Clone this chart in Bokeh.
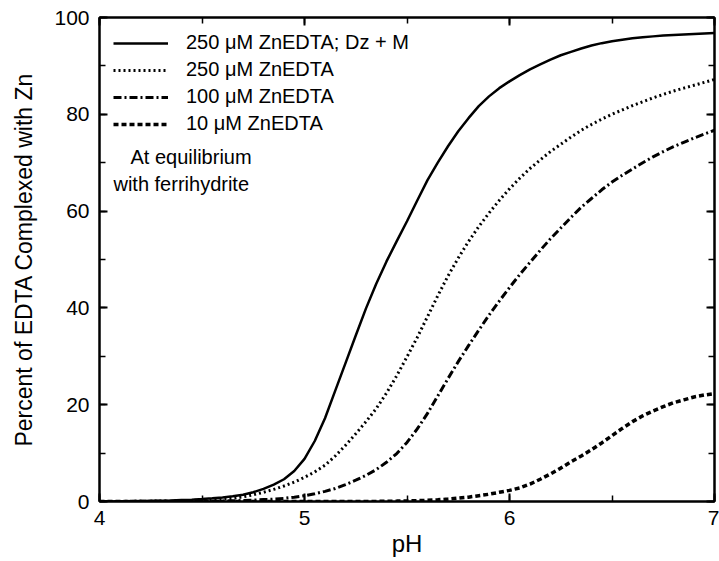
from bokeh.plotting import figure
from bokeh.models import (Range1d, LinearAxis, SingleIntervalTicker, Legend, LegendItem, Label,
                          CustomJSTickFormatter)
from bokeh.embed import file_html
from bokeh.resources import INLINE

ph = [4.00, 4.05, 4.10, 4.15, 4.20, 4.25, 4.30, 4.35, 4.40, 4.45,
      4.50, 4.55, 4.60, 4.65, 4.70, 4.75, 4.80, 4.85, 4.90, 4.95,
      5.00, 5.05, 5.10, 5.15, 5.20, 5.25, 5.30, 5.35, 5.40, 5.45,
      5.50, 5.55, 5.60, 5.65, 5.70, 5.75, 5.80, 5.85, 5.90, 5.95,
      6.00, 6.05, 6.10, 6.15, 6.20, 6.25, 6.30, 6.35, 6.40, 6.45,
      6.50, 6.55, 6.60, 6.65, 6.70, 6.75, 6.80, 6.85, 6.90, 6.95, 7.00]

# 250 uM ZnEDTA; Dz + M
zn250_dzm = [0.0, 0.02, 0.05, 0.07, 0.1, 0.13, 0.17, 0.22, 0.3, 0.38,
             0.5, 0.65, 0.85, 1.1, 1.4, 1.9, 2.6, 3.5, 4.6, 6.3,
             8.8, 12.5, 17.2, 22.9, 28.6, 34.3, 39.9, 45.0, 49.6, 53.8,
             57.9, 62.2, 66.4, 70.0, 73.4, 76.5, 79.2, 81.7, 83.7, 85.4,
             86.8, 88.1, 89.3, 90.3, 91.3, 92.2, 92.9, 93.6, 94.2, 94.7,
             95.1, 95.4, 95.7, 95.9, 96.1, 96.3, 96.4, 96.5, 96.6, 96.7, 96.8]

# 250 uM ZnEDTA
zn250 = [0.0, 0.0, 0.02, 0.03, 0.05, 0.07, 0.1, 0.13, 0.17, 0.22,
         0.3, 0.4, 0.5, 0.65, 0.95, 1.4, 1.9, 2.5, 3.2, 4.0,
         5.0, 6.1, 7.5, 9.4, 11.6, 14.0, 16.5, 19.2, 22.4, 26.0,
         29.9, 33.9, 38.2, 42.5, 46.6, 50.3, 53.7, 56.8, 59.6, 62.2,
         64.6, 66.8, 68.8, 70.6, 72.3, 73.8, 75.3, 76.7, 77.9, 79.0,
         80.0, 80.9, 81.8, 82.6, 83.4, 84.1, 84.8, 85.4, 86.0, 86.6, 87.2]

# 100 uM ZnEDTA
zn100 = [0.0, 0.0, 0.0, 0.0, 0.0, 0.0, 0.0, 0.0, 0.0, 0.02,
         0.05, 0.07, 0.1, 0.15, 0.2, 0.3, 0.4, 0.5, 0.65, 0.9,
         1.2, 1.6, 2.1, 2.7, 3.5, 4.4, 5.4, 6.6, 8.1, 9.9,
         12.2, 15.0, 18.2, 21.8, 25.4, 28.9, 32.2, 35.4, 38.5, 41.4,
         44.2, 46.9, 49.4, 51.9, 54.3, 56.5, 58.7, 60.8, 62.6, 64.4,
         66.0, 67.4, 68.7, 70.0, 71.2, 72.3, 73.3, 74.2, 75.1, 75.9, 76.7]

# 10 uM ZnEDTA
zn10 = [0.0, 0.0, 0.0, 0.0, 0.0, 0.0, 0.0, 0.0, 0.0, 0.0,
        0.0, 0.0, 0.0, 0.0, 0.0, 0.0, 0.0, 0.0, 0.0, 0.0,
        0.0, 0.0, 0.0, 0.0, 0.0, 0.0, 0.0, 0.02, 0.05, 0.08,
        0.12, 0.18, 0.25, 0.35, 0.5, 0.7, 0.9, 1.2, 1.5, 1.9,
        2.3, 2.8, 3.6, 4.6, 5.7, 6.9, 8.2, 9.4, 10.7, 12.1,
        13.6, 15.1, 16.5, 17.7, 18.7, 19.6, 20.4, 21.0, 21.6, 22.0, 22.3]

labels = ["250 \u03bcM ZnEDTA; Dz + M", "250 \u03bcM ZnEDTA",
          "100 \u03bcM ZnEDTA", "10 \u03bcM ZnEDTA"]
note_lines = ["At equilibrium", "with ferrihydrite"]

FONT = "Liberation Sans"

p = figure(width=719, height=561, output_backend="svg", toolbar_location=None,
           x_range=Range1d(4, 7), y_range=Range1d(0, 100),
           min_border_left=99, min_border_right=5, min_border_top=17, min_border_bottom=60)
p.grid.visible = False
p.outline_line_color = "black"
p.outline_line_width = 2
p.background_fill_color = "white"
p.border_fill_color = "white"

for ax in p.xaxis:
    ax.ticker = SingleIntervalTicker(interval=1, num_minor_ticks=2)
for ax in p.yaxis:
    ax.ticker = SingleIntervalTicker(interval=20, num_minor_ticks=2)


def style_axis(ax):
    ax.axis_line_width = 2
    ax.axis_line_color = "black"
    ax.major_tick_in = 8
    ax.major_tick_out = 0
    ax.minor_tick_in = 6
    ax.minor_tick_out = 0
    ax.major_tick_line_width = 2
    ax.minor_tick_line_width = 1.5
    ax.major_tick_line_color = "black"
    ax.minor_tick_line_color = "black"
    ax.major_label_text_font = FONT
    ax.major_label_text_font_size = "21px"
    ax.major_label_text_color = "black"
    ax.axis_label_text_font = FONT
    ax.axis_label_text_font_style = "normal"
    ax.axis_label_text_color = "black"


style_axis(p.xaxis[0])
style_axis(p.yaxis[0])
p.xaxis[0].axis_label = "pH"
p.yaxis[0].axis_label = "Percent of EDTA Complexed with Zn"
p.xaxis[0].axis_label_text_font_size = "24px"
p.yaxis[0].axis_label_text_font_size = "23px"
p.xaxis[0].major_label_standoff = 9
p.xaxis[0].axis_label_standoff = 2
p.yaxis[0].major_label_standoff = 10
p.yaxis[0].axis_label_standoff = 14

blank = CustomJSTickFormatter(code="return ''")
top = LinearAxis(ticker=SingleIntervalTicker(interval=1, num_minor_ticks=2), formatter=blank)
right = LinearAxis(ticker=SingleIntervalTicker(interval=20, num_minor_ticks=2), formatter=blank)
for ax in (top, right):
    style_axis(ax)
    ax.major_label_standoff = 0
p.add_layout(top, "above")
p.add_layout(right, "right")

r1 = p.line(ph, zn250_dzm, line_color="black", line_width=2.5)
r2 = p.line(ph, zn250, line_color="black", line_width=3, line_dash="2 3")
r3 = p.line(ph, zn100, line_color="black", line_width=3, line_dash="8 3 2 3")
r4 = p.line(ph, zn10, line_color="black", line_width=3.5, line_dash="5 3")

legend = Legend(items=[LegendItem(label=labels[0], renderers=[r1]),
                       LegendItem(label=labels[1], renderers=[r2]),
                       LegendItem(label=labels[2], renderers=[r3]),
                       LegendItem(label=labels[3], renderers=[r4])],
                location=(14, 366), orientation="vertical",
                glyph_width=55, glyph_height=20, label_height=20, label_standoff=18,
                spacing=4, padding=0, margin=0,
                label_text_font=FONT, label_text_font_size="20px", label_text_color="black",
                border_line_color=None, background_fill_alpha=0)
p.add_layout(legend)

p.add_layout(Label(x=4.151, y=71.1, text=note_lines[0], text_font=FONT, text_color="black",
                   text_font_size="20px", text_baseline="middle", text_align="left"))
p.add_layout(Label(x=4.068, y=65.7, text=note_lines[1], text_font=FONT, text_color="black",
                   text_font_size="20px", text_baseline="middle", text_align="left"))

open("out.html", "w").write(file_html(p, INLINE))
